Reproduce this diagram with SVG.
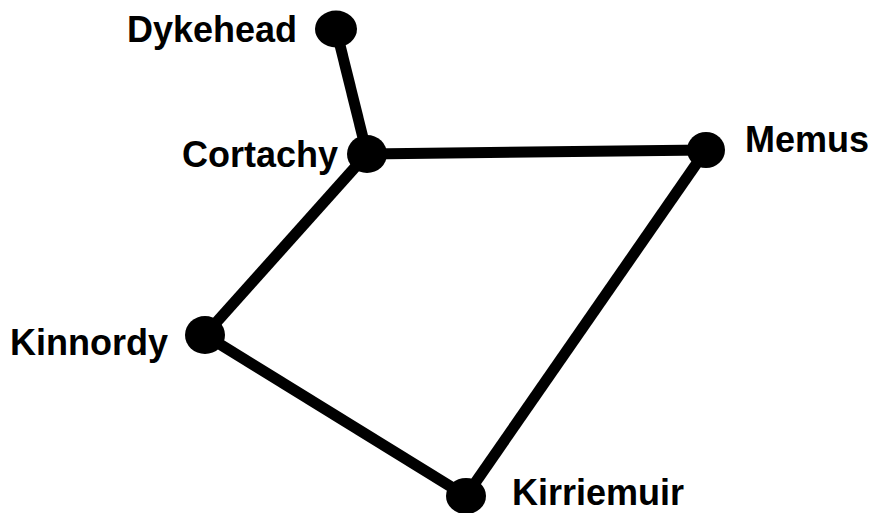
<svg xmlns="http://www.w3.org/2000/svg" width="876" height="513" viewBox="0 0 876 513">
<style>
.edge{stroke:#000;stroke-width:11;fill:none}
.dot{fill:#000}
.lbl{font-family:"Liberation Sans",Arial,sans-serif;font-weight:bold;font-size:36px;fill:#000}
</style>
<rect width="876" height="513" fill="#fff"/>
<g id="connectors">
<line class="edge" x1="336" y1="29" x2="367" y2="154"/>
<line class="edge" x1="367" y1="154" x2="706" y2="150"/>
<line class="edge" x1="367" y1="154" x2="205" y2="335"/>
<line class="edge" x1="205" y1="335" x2="466" y2="496"/>
<line class="edge" x1="466" y1="496" x2="706" y2="150"/>
</g>
<g id="Dykehead"><ellipse class="dot" cx="336" cy="29" rx="21" ry="18.5"/><text class="lbl" x="297" y="42" text-anchor="end">Dykehead</text></g>
<g id="Cortachy"><ellipse class="dot" cx="367" cy="154" rx="20" ry="19"/><text class="lbl" x="338" y="167" text-anchor="end">Cortachy</text></g>
<g id="Memus"><ellipse class="dot" cx="706" cy="150" rx="19" ry="18"/><text class="lbl" x="745" y="152">Memus</text></g>
<g id="Kinnordy"><ellipse class="dot" cx="205" cy="335" rx="20" ry="19"/><text class="lbl" x="168" y="355" text-anchor="end">Kinnordy</text></g>
<g id="Kirriemuir"><ellipse class="dot" cx="466" cy="496" rx="20" ry="18"/><text class="lbl" x="512" y="505">Kirriemuir</text></g>
</svg>
